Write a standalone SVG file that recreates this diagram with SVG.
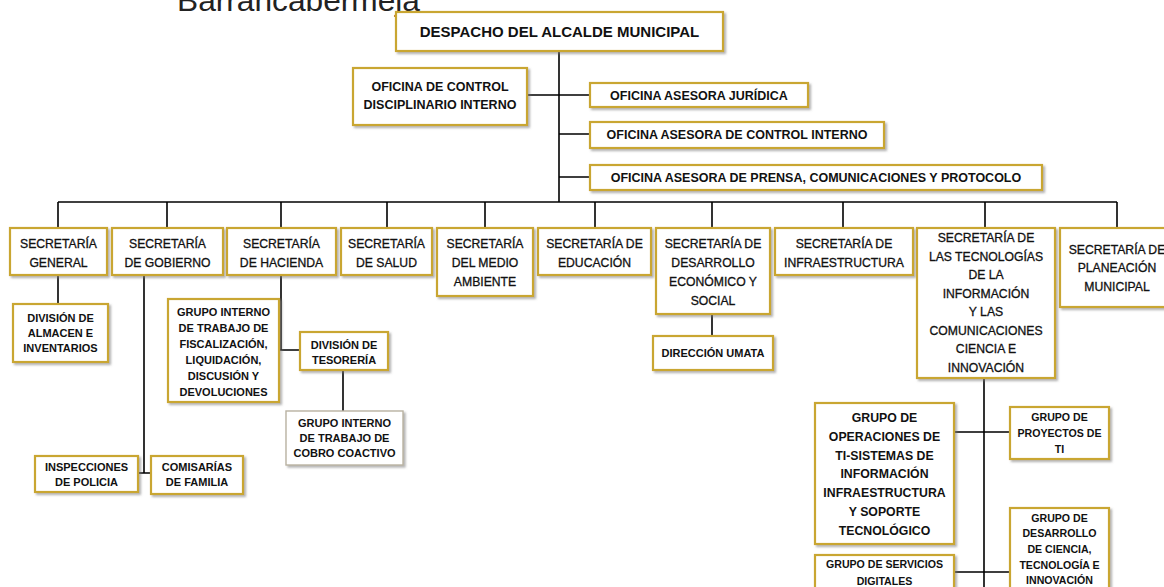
<svg xmlns="http://www.w3.org/2000/svg" width="1164" height="587" viewBox="0 0 1164 587">
<defs>
<filter id="sh" x="-10%" y="-10%" width="130%" height="140%">
<feDropShadow dx="2" dy="2" stdDeviation="1" flood-color="#777" flood-opacity="0.55"/>
</filter>
<style>
.box{fill:#fff;stroke:#c9a633;stroke-width:2.2;filter:url(#sh)}
.box2{fill:#fff;stroke:#b9b2a2;stroke-width:1.4;filter:url(#sh)}
text{font-family:"Liberation Sans",Arial,sans-serif;fill:#111;text-anchor:middle}
.h{font-weight:bold;font-size:15px}
.o{font-weight:bold;font-size:12.5px}
.s{font-size:12.2px;stroke:#111;stroke-width:0.3}
.g{font-weight:bold;font-size:11px}
.gs{font-weight:bold;font-size:10.6px}
.gl{font-weight:bold;font-size:12.3px}
.title{font-size:30px;fill:#222;text-anchor:start}
.c{stroke:#000;stroke-width:1.6;fill:none}
</style>
</defs>
<rect width="1164" height="587" fill="#fff"/>
<text class="title" x="177" y="11" textLength="243" lengthAdjust="spacingAndGlyphs">Barrancabermeja</text>

<g id="connectors">
<path class="c" d="M559 51V202"/>
<path class="c" d="M527 95H590M559 134H590M559 177H590"/>
<path class="c" d="M58 202H1117"/>
<path class="c" d="M58 202V228M167 202V228M281 202V228M387 202V228M485 202V228M595 202V228M712 202V228M843 202V228M985 202V228M1117 202V228"/>
<path class="c" d="M58 275V304"/>
<path class="c" d="M144 275V473M138 473H151"/>
<path class="c" d="M281 275V350M279 350H300"/>
<path class="c" d="M343 370V411"/>
<path class="c" d="M712 314V336"/>
<path class="c" d="M984 378V587M954 432H1010M954 572H1010"/>
</g>

<g id="despacho">
<rect class="box" x="396" y="12" width="327" height="39"/>
<text class="h" x="559.5" y="37">DESPACHO DEL ALCALDE MUNICIPAL</text>
</g>
<g id="control-disciplinario">
<rect class="box" x="353" y="68" width="174" height="57"/>
<text class="o" x="440" y="91">OFICINA DE CONTROL</text>
<text class="o" x="440" y="109">DISCIPLINARIO INTERNO</text>
</g>
<g id="juridica">
<rect class="box" x="590" y="83" width="218" height="24"/>
<text class="o" x="699" y="100">OFICINA ASESORA JURÍDICA</text>
</g>
<g id="control-interno">
<rect class="box" x="590" y="122" width="294" height="26"/>
<text class="o" x="737" y="139">OFICINA ASESORA DE CONTROL INTERNO</text>
</g>
<g id="prensa">
<rect class="box" x="590" y="165" width="452" height="25"/>
<text class="o" x="816" y="182">OFICINA ASESORA DE PRENSA, COMUNICACIONES Y PROTOCOLO</text>
</g>

<g id="sec-general">
<rect class="box" x="10" y="228" width="97" height="47"/>
<text class="s" x="58.5" y="248">SECRETARÍA</text>
<text class="s" x="58.5" y="267">GENERAL</text>
</g>
<g id="sec-gobierno">
<rect class="box" x="112" y="228" width="111" height="47"/>
<text class="s" x="167.5" y="248">SECRETARÍA</text>
<text class="s" x="167.5" y="267">DE GOBIERNO</text>
</g>
<g id="sec-hacienda">
<rect class="box" x="227" y="228" width="109" height="47"/>
<text class="s" x="281.5" y="248">SECRETARÍA</text>
<text class="s" x="281.5" y="267">DE HACIENDA</text>
</g>
<g id="sec-salud">
<rect class="box" x="341" y="228" width="91" height="47"/>
<text class="s" x="386.5" y="248">SECRETARÍA</text>
<text class="s" x="386.5" y="267">DE SALUD</text>
</g>
<g id="sec-ambiente">
<rect class="box" x="437" y="228" width="96" height="68"/>
<text class="s" x="485" y="248">SECRETARÍA</text>
<text class="s" x="485" y="267">DEL MEDIO</text>
<text class="s" x="485" y="286">AMBIENTE</text>
</g>
<g id="sec-educacion">
<rect class="box" x="538" y="228" width="113" height="47"/>
<text class="s" x="594.5" y="248">SECRETARÍA DE</text>
<text class="s" x="594.5" y="267">EDUCACIÓN</text>
</g>
<g id="sec-desarrollo">
<rect class="box" x="656" y="228" width="114" height="86"/>
<text class="s" x="713" y="248">SECRETARÍA DE</text>
<text class="s" x="713" y="267">DESARROLLO</text>
<text class="s" x="713" y="286">ECONÓMICO Y</text>
<text class="s" x="713" y="305">SOCIAL</text>
</g>
<g id="sec-infraestructura">
<rect class="box" x="775" y="228" width="138" height="47"/>
<text class="s" x="844" y="248">SECRETARÍA DE</text>
<text class="s" x="844" y="267">INFRAESTRUCTURA</text>
</g>
<g id="sec-tic">
<rect class="box" x="917" y="228" width="138" height="150"/>
<text class="s" x="986" y="242">SECRETARÍA DE</text>
<text class="s" x="986" y="260.5">LAS TECNOLOGÍAS</text>
<text class="s" x="986" y="279">DE LA</text>
<text class="s" x="986" y="297.5">INFORMACIÓN</text>
<text class="s" x="986" y="316">Y LAS</text>
<text class="s" x="986" y="334.5">COMUNICACIONES</text>
<text class="s" x="986" y="353">CIENCIA E</text>
<text class="s" x="986" y="371.5">INNOVACIÓN</text>
</g>
<g id="sec-planeacion">
<rect class="box" x="1060" y="228" width="114" height="79"/>
<text class="s" x="1117" y="254">SECRETARÍA DE</text>
<text class="s" x="1117" y="272">PLANEACIÓN</text>
<text class="s" x="1117" y="291">MUNICIPAL</text>
</g>

<g id="almacen">
<rect class="box" x="13" y="304" width="95" height="58"/>
<text class="g" x="60.5" y="322">DIVISIÓN DE</text>
<text class="g" x="60.5" y="337">ALMACEN E</text>
<text class="g" x="60.5" y="352">INVENTARIOS</text>
</g>
<g id="fiscalizacion">
<rect class="box" x="168" y="299" width="111" height="103"/>
<text class="g" x="223.5" y="316">GRUPO INTERNO</text>
<text class="g" x="223.5" y="332">DE TRABAJO DE</text>
<text class="g" x="223.5" y="348">FISCALIZACIÓN,</text>
<text class="g" x="223.5" y="364">LIQUIDACIÓN,</text>
<text class="g" x="223.5" y="380">DISCUSIÓN Y</text>
<text class="g" x="223.5" y="396">DEVOLUCIONES</text>
</g>
<g id="tesoreria">
<rect class="box" x="300" y="332" width="88" height="38"/>
<text class="g" x="344" y="349">DIVISIÓN DE</text>
<text class="g" x="344" y="364">TESORERÍA</text>
</g>
<g id="cobro-coactivo">
<rect class="box2" x="286" y="411" width="117" height="54"/>
<text class="g" x="344.5" y="427">GRUPO INTERNO</text>
<text class="g" x="344.5" y="442">DE TRABAJO DE</text>
<text class="g" x="344.5" y="457">COBRO COACTIVO</text>
</g>
<g id="inspecciones">
<rect class="box" x="35" y="456" width="103" height="36"/>
<text class="g" x="86.5" y="471">INSPECCIONES</text>
<text class="g" x="86.5" y="486">DE POLICIA</text>
</g>
<g id="comisarias">
<rect class="box" x="151" y="456" width="92" height="38"/>
<text class="g" x="197" y="471">COMISARÍAS</text>
<text class="g" x="197" y="486">DE FAMILIA</text>
</g>
<g id="umata">
<rect class="box" x="653" y="336" width="120" height="34"/>
<text class="g" x="713" y="357">DIRECCIÓN UMATA</text>
</g>

<g id="operaciones">
<rect class="box" x="815" y="403" width="139" height="141"/>
<text class="gl" x="884.5" y="422">GRUPO DE</text>
<text class="gl" x="884.5" y="441">OPERACIONES DE</text>
<text class="gl" x="884.5" y="460">TI-SISTEMAS DE</text>
<text class="gl" x="884.5" y="478">INFORMACIÓN</text>
<text class="gl" x="884.5" y="497">INFRAESTRUCTURA</text>
<text class="gl" x="884.5" y="516">Y SOPORTE</text>
<text class="gl" x="884.5" y="535">TECNOLÓGICO</text>
</g>
<g id="proyectos">
<rect class="box" x="1010" y="407" width="99" height="52"/>
<text class="gs" x="1059.5" y="421">GRUPO DE</text>
<text class="gs" x="1059.5" y="437">PROYECTOS DE</text>
<text class="gs" x="1059.5" y="453">TI</text>
</g>
<g id="servicios">
<rect class="box" x="815" y="555" width="139" height="50"/>
<text class="gs" x="884.5" y="568">GRUPO DE SERVICIOS</text>
<text class="gs" x="884.5" y="585">DIGITALES</text>
</g>
<g id="ciencia">
<rect class="box" x="1010" y="508" width="99" height="95"/>
<text class="gs" x="1059.5" y="522">GRUPO  DE</text>
<text class="gs" x="1059.5" y="537">DESARROLLO</text>
<text class="gs" x="1059.5" y="553">DE CIENCIA,</text>
<text class="gs" x="1059.5" y="569">TECNOLOGÍA E</text>
<text class="gs" x="1059.5" y="584">INNOVACIÓN</text>
</g>
</svg>
